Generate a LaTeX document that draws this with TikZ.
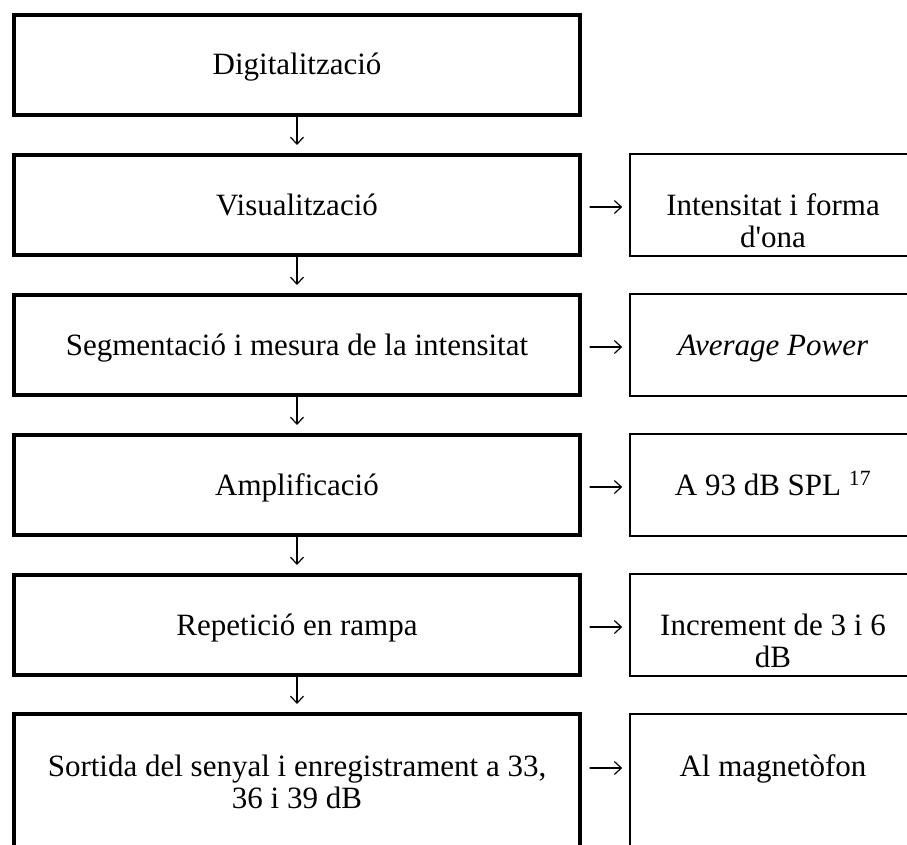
\documentclass[tikz,border=0pt]{standalone}
\usepackage{fontspec}
\setmainfont{Liberation Serif}
\usepackage{tikz}
\usetikzlibrary{arrows.meta}

\newcommand{\dueslinies}[2]{\begin{tabular}[t]{@{}c@{}}#1\\#2\end{tabular}}

\begin{document}
\begin{tikzpicture}[line cap=round,line join=round,>={Straight Barb[length=7pt,width=13pt]},x=1pt,y=-1pt,
  etapa/.style={draw,line width=4pt,line cap=butt,line join=miter,minimum width=566pt,minimum height=100pt,inner sep=0pt,text height=24pt,text depth=4pt,font=\fontsize{31}{32}\selectfont},
  resultat/.style={draw,line width=1.6pt,line join=miter,minimum width=286pt,minimum height=102pt,inner sep=0pt,text height=24pt,text depth=4pt,font=\fontsize{31}{32}\selectfont},
  oberta/.style={minimum height=160pt,text depth=60pt},
  fletxa/.style={->,line width=1.2pt}]
\useasboundingbox (0,0) rectangle (907,845);
\clip (0,0) rectangle (907,845);
% etapes
\node[etapa] (dig) at (297,65) {Digitalització};
\node[etapa] (vis) at (297,205) {Visualització};
\node[etapa] (seg) at (297,345) {Segmentació i mesura de la intensitat};
\node[etapa] (amp) at (297,485) {Amplificació};
\node[etapa] (rep) at (297,625) {Repetició en rampa};
\node[etapa,oberta] (sor) at (297,794) {\dueslinies{Sortida del senyal i enregistrament a 33,}{36 i 39 dB}};
% resultats
\node[resultat] (ona) at (773,205) {\dueslinies{Intensitat i forma}{d\textquotesingle ona}};
\node[resultat] (pow) at (773,345) {\textit{Average Power}};
\node[resultat] (spl) at (773,485) {A 93 dB SPL \textsuperscript{17}};
\node[resultat] (inc) at (773,625) {\dueslinies{Increment de 3 i 6}{dB}};
\node[resultat,oberta] (mag) at (773,794) {Al magnetòfon};
% fletxes
\draw[fletxa,shorten >=8pt] (dig) -- (vis);
\draw[fletxa,shorten >=8pt] (vis) -- (seg);
\draw[fletxa,shorten >=8pt] (seg) -- (amp);
\draw[fletxa,shorten >=8pt] (amp) -- (rep);
\draw[fletxa,shorten >=8pt] (rep) -- (sor);
\draw[fletxa,shorten <=8pt,shorten >=7pt] ([yshift=8pt]vis.base east) -- ([yshift=8pt]ona.base west);
\draw[fletxa,shorten <=8pt,shorten >=7pt] ([yshift=8pt]seg.base east) -- ([yshift=8pt]pow.base west);
\draw[fletxa,shorten <=8pt,shorten >=7pt] ([yshift=8pt]amp.base east) -- ([yshift=8pt]spl.base west);
\draw[fletxa,shorten <=8pt,shorten >=7pt] ([yshift=8pt]rep.base east) -- ([yshift=8pt]inc.base west);
\draw[fletxa,shorten <=8pt,shorten >=7pt] ([yshift=8pt]sor.base east) -- ([yshift=8pt]mag.base west);
\end{tikzpicture}
\end{document}
